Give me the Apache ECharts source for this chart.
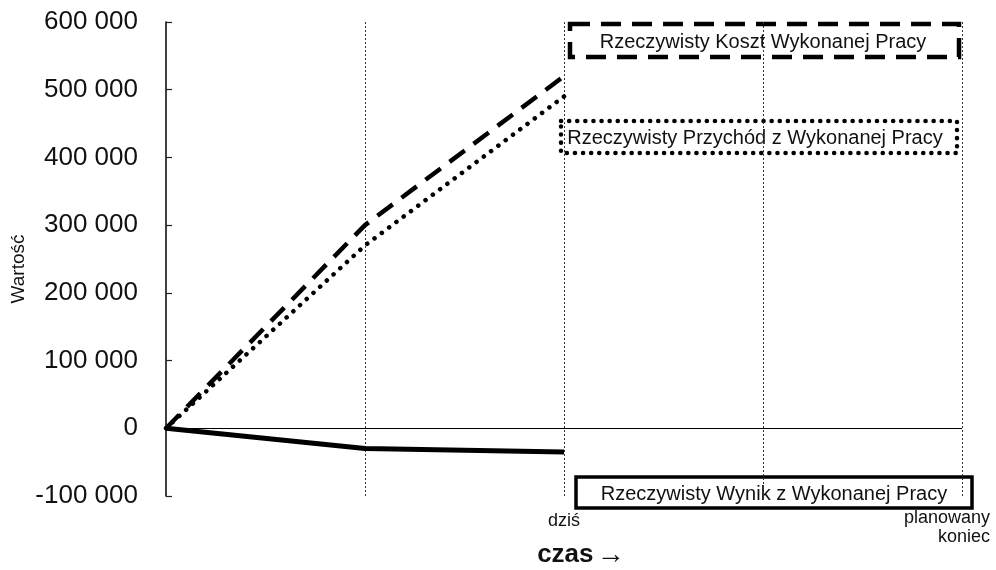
<!DOCTYPE html>
<html>
<head>
<meta charset="utf-8">
<script src="https://cdn.jsdelivr.net/npm/echarts@6/dist/echarts.min.js"></script>
<style>
  html, body { margin: 0; padding: 0; background: #fff; }
  #chart { width: 996px; height: 570px; }
</style>
</head>
<body>
<div id="chart"></div>
<script>
// Time axis: start, two checkpoints, "today" and the planned end
const categories = ['', '', 'dziś', '', 'planowany\nkoniec'];

// Earned-value series, known up to "today"
const kosztWykonanejPracy = [0, 300000, 520000];
const przychodWykonanejPracy = [0, 270000, 490000];
const wynikWykonanejPracy = [0, -30000, -35000];

// Value axis range
const yMin = -100000;
const yMax = 600000;
const yStep = 100000;

const seriesNames = [
  'Rzeczywisty Koszt Wykonanej Pracy',
  'Rzeczywisty Przychód z Wykonanej Pracy',
  'Rzeczywisty Wynik z Wykonanej Pracy'
];

const fmt = v => String(v).replace(/\B(?=(\d{3})+(?!\d))/g, ' ');

const chart = echarts.init(document.getElementById('chart'));

const catData = categories.map((c, i) => {
  if (i === categories.length - 1) {
    return { value: c, textStyle: { align: 'right', padding: [-3, -28, 0, 0] } };
  }
  return c;
});

const baseFont = 'Liberation Sans, Arial, sans-serif';

chart.setOption({
  animation: false,
  backgroundColor: '#fff',
  grid: { left: 166, right: 34, top: 22, bottom: 74, containLabel: false, outerBoundsMode: 'none' },
  xAxis: {
    type: 'category',
    data: catData,
    boundaryGap: false,
    axisLine: { show: false, onZero: false },
    axisTick: { show: false },
    axisLabel: {
      interval: 0,
      margin: 16,
      fontFamily: baseFont,
      fontSize: 18,
      lineHeight: 19,
      color: '#111'
    },
    splitLine: {
      show: true,
      // the first grid line would sit on the value axis
      interval: (index) => index !== 0,
      lineStyle: { type: [2, 2], color: '#333', width: 1 }
    },
    name: '{b|czas} {a|→}',
    nameLocation: 'middle',
    nameGap: 45,
    nameMoveOverlap: false,
    nameTextStyle: {
      padding: [0, 0, 0, 34],
      rich: {
        b: { fontFamily: baseFont, fontSize: 26, fontWeight: 'bold', color: '#111' },
        a: { fontFamily: baseFont, fontSize: 28, color: '#111' }
      }
    }
  },
  yAxis: {
    type: 'value',
    min: yMin,
    max: yMax,
    interval: yStep,
    axisLine: { show: true, lineStyle: { color: '#111', width: 1.6 } },
    axisTick: { show: true, inside: true, length: 6, lineStyle: { color: '#222', width: 1.2 } },
    splitLine: { show: false },
    axisLabel: {
      margin: 28,
      fontFamily: baseFont,
      fontSize: 26,
      color: '#111',
      formatter: fmt
    },
    name: 'Wartość',
    nameLocation: 'middle',
    nameGap: 138,
    nameMoveOverlap: false,
    nameRotate: 90,
    nameTextStyle: { fontFamily: baseFont, fontSize: 19, color: '#111', padding: [0, 20, 0, 0] }
  },
  series: [
    {
      name: seriesNames[0],
      type: 'line',
      data: kosztWykonanejPracy,
      symbol: 'none',
      lineStyle: { color: '#000', width: 4.5, type: [19, 11], cap: 'butt' },
      markLine: {
        silent: true,
        symbol: 'none',
        label: { show: false },
        lineStyle: { color: '#000', width: 1, type: 'solid' },
        data: [{ yAxis: 0 }]
      },
      z: 3
    },
    {
      name: seriesNames[1],
      type: 'line',
      data: przychodWykonanejPracy,
      symbol: 'none',
      lineStyle: { color: '#000', width: 4.5, type: [0.1, 9], cap: 'round' },
      z: 3
    },
    {
      name: seriesNames[2],
      type: 'line',
      data: wynikWykonanejPracy,
      symbol: 'none',
      lineStyle: { color: '#000', width: 5 },
      z: 3
    }
  ],
  graphic: [
    {
      type: 'group',
      children: [
        {
          type: 'rect',
          shape: { x: 570, y: 24, width: 389, height: 33 },
          style: { fill: '#fff', stroke: '#000', lineWidth: 4.5, lineDash: [20, 11] }
        },
        {
          type: 'text',
          x: 763, y: 42,
          style: {
            text: seriesNames[0], align: 'center', verticalAlign: 'middle',
            font: '20px "Liberation Sans", Arial, sans-serif', fill: '#111'
          }
        },
        {
          type: 'rect',
          shape: { x: 561, y: 121, width: 396, height: 32 },
          style: { fill: '#fff', stroke: '#000', lineWidth: 4.5, lineDash: [0.1, 8], lineCap: 'round' }
        },
        {
          type: 'text',
          x: 755, y: 138,
          style: {
            text: seriesNames[1], align: 'center', verticalAlign: 'middle',
            font: '20px "Liberation Sans", Arial, sans-serif', fill: '#111'
          }
        },
        {
          type: 'rect',
          shape: { x: 576, y: 477, width: 396, height: 31 },
          style: { fill: '#fff', stroke: '#000', lineWidth: 3.5 }
        },
        {
          type: 'text',
          x: 774, y: 494,
          style: {
            text: seriesNames[2], align: 'center', verticalAlign: 'middle',
            font: '20px "Liberation Sans", Arial, sans-serif', fill: '#111'
          }
        }
      ]
    }
  ]
});
</script>
</body>
</html>
